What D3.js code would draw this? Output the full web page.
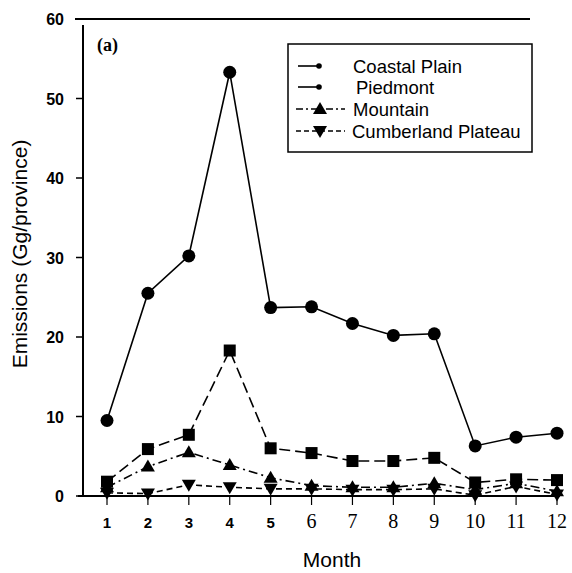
<!DOCTYPE html>
<html>
<head>
<meta charset="utf-8">
<script src="https://cdn.jsdelivr.net/npm/d3@7/dist/d3.min.js"></script>
<style>
  body { margin: 0; background: #fff; }
  svg text { fill: #000; }
</style>
</head>
<body>
<div id="chart"></div>
<script>
// monthly emissions per province
const months = [1, 2, 3, 4, 5, 6, 7, 8, 9, 10, 11, 12];
const coastalPlain = [1.8, 5.9, 7.7, 18.3, 6.0, 5.4, 4.4, 4.4, 4.8, 1.7, 2.1, 2.0];
const piedmont = [9.5, 25.5, 30.2, 53.3, 23.7, 23.8, 21.7, 20.2, 20.4, 6.3, 7.4, 7.9];
const mountain = [1.1, 3.7, 5.5, 3.9, 2.3, 1.3, 1.1, 1.1, 1.6, 0.8, 1.6, 0.6];
const cumberland = [0.4, 0.3, 1.4, 1.1, 0.9, 0.9, 0.8, 0.8, 0.9, 0.1, 1.2, 0.2];
const yTicks = [0, 10, 20, 30, 40, 50, 60];
const legendNames = ["Coastal Plain", "Piedmont", "Mountain", "Cumberland Plateau"];

const SANS = "'Liberation Sans', Arial, sans-serif";
const SERIF = "'Liberation Serif', 'Times New Roman', serif";

const series = [
  { name: "Coastal Plain", values: coastalPlain, dash: "11,5", marker: "square" },
  { name: "Piedmont", values: piedmont, dash: null, marker: "circle" },
  { name: "Mountain", values: mountain, dash: "9,4,2,4", marker: "triangle" },
  { name: "Cumberland Plateau", values: cumberland, dash: "6,4", marker: "triangleDown" },
];

const width = 572, height = 573;
const svg = d3.select("#chart").append("svg")
  .attr("width", width)
  .attr("height", height);

const x = d3.scaleLinear().domain([1, 12]).range([107, 557]);
const y = d3.scaleLinear().domain([0, 60]).range([496, 19]);

// frame: top line, y axis, x axis
svg.append("line")
  .attr("x1", 75).attr("x2", 530)
  .attr("y1", y(60)).attr("y2", y(60))
  .attr("stroke", "#000").attr("stroke-width", 2);
svg.append("line")
  .attr("x1", 83).attr("x2", 83)
  .attr("y1", y(60) + 6).attr("y2", y(0))
  .attr("stroke", "#000").attr("stroke-width", 2);
svg.append("line")
  .attr("x1", 78).attr("x2", 560)
  .attr("y1", y(0)).attr("y2", y(0))
  .attr("stroke", "#000").attr("stroke-width", 2);

// y ticks
svg.selectAll(".ytick").data(yTicks.slice(0, -1)).enter()
  .append("line")
  .attr("x1", 76).attr("x2", 83)
  .attr("y1", (d) => y(d)).attr("y2", (d) => y(d))
  .attr("stroke", "#000").attr("stroke-width", 1.5);

svg.selectAll(".ylabel").data(yTicks).enter()
  .append("text")
  .attr("x", 64)
  .attr("y", (d) => y(d) + 6)
  .attr("text-anchor", "end")
  .style("font-family", SANS)
  .style("font-weight", "bold")
  .style("font-size", "16px")
  .text((d) => d);

// x ticks
svg.selectAll(".xtick").data(months).enter()
  .append("line")
  .attr("x1", (d) => x(d)).attr("x2", (d) => x(d))
  .attr("y1", y(0)).attr("y2", y(0) + 9)
  .attr("stroke", "#000").attr("stroke-width", 1.2);

// months 1-5 are set in a bold sans, 6-12 in a serif face
svg.selectAll(".xlabel").data(months).enter()
  .append("text")
  .attr("x", (d) => x(d))
  .attr("y", 528)
  .attr("text-anchor", "middle")
  .style("font-family", (d) => (d <= 5 ? SANS : SERIF))
  .style("font-weight", (d) => (d <= 5 ? "bold" : "normal"))
  .style("font-size", (d) => (d <= 5 ? "15px" : "20px"))
  .text((d) => d);

// axis titles
svg.append("text")
  .attr("x", 332).attr("y", 567)
  .attr("text-anchor", "middle")
  .style("font-family", SANS)
  .style("font-size", "21px")
  .text("Month");

svg.append("text")
  .attr("transform", "translate(27,254) rotate(-90)")
  .attr("text-anchor", "middle")
  .style("font-family", SANS)
  .style("font-size", "21px")
  .text("Emissions (Gg/province)");

svg.append("text")
  .attr("x", 97).attr("y", 51)
  .style("font-family", SERIF)
  .style("font-weight", "bold")
  .style("font-size", "18px")
  .text("(a)");

// marker shapes
function drawMarker(g, type, cx, cy) {
  if (type === "circle") {
    g.append("circle").attr("cx", cx).attr("cy", cy).attr("r", 6.5).attr("fill", "#000");
  } else if (type === "square") {
    g.append("rect").attr("x", cx - 6).attr("y", cy - 6)
      .attr("width", 12).attr("height", 12).attr("fill", "#000");
  } else if (type === "triangle") {
    g.append("path")
      .attr("d", `M${cx},${cy - 7}L${cx + 7},${cy + 5}L${cx - 7},${cy + 5}Z`)
      .attr("fill", "#000");
  } else if (type === "triangleDown") {
    g.append("path")
      .attr("d", `M${cx - 7},${cy - 5}L${cx + 7},${cy - 5}L${cx},${cy + 7}Z`)
      .attr("fill", "#000");
  }
}

const line = d3.line()
  .x((d, i) => x(months[i]))
  .y((d) => y(d));

series.forEach((s) => {
  const g = svg.append("g");
  g.append("path")
    .datum(s.values)
    .attr("d", line)
    .attr("fill", "none")
    .attr("stroke", "#000")
    .attr("stroke-width", 1.6)
    .attr("stroke-dasharray", s.dash);
  s.values.forEach((v, i) => drawMarker(g, s.marker, x(months[i]), y(v)));
});

// legend
const legend = svg.append("g");
legend.append("rect")
  .attr("x", 288).attr("y", 44)
  .attr("width", 244).attr("height", 108)
  .attr("fill", "#fff")
  .attr("stroke", "#000").attr("stroke-width", 1.5);

const legendRows = [
  { name: legendNames[0], ty: 66, tx: 353, marker: "dot", dash: null },
  { name: legendNames[1], ty: 87, tx: 356, marker: "dot", dash: null },
  { name: legendNames[2], ty: 109, tx: 353, marker: "triangle", dash: "7,3,2,3" },
  { name: legendNames[3], ty: 131, tx: 352, marker: "triangleDown", dash: "5,3" },
];

legendRows.forEach((r) => {
  const g = legend.append("g");
  if (r.marker === "dot") {
    g.append("line").attr("x1", 298).attr("x2", 319)
      .attr("y1", r.ty).attr("y2", r.ty)
      .attr("stroke", "#000").attr("stroke-width", 1.6);
    g.append("circle").attr("cx", 319).attr("cy", r.ty).attr("r", 2.8).attr("fill", "#000");
  } else {
    g.append("line").attr("x1", 296).attr("x2", 345)
      .attr("y1", r.ty).attr("y2", r.ty)
      .attr("stroke", "#000").attr("stroke-width", 1.5)
      .attr("stroke-dasharray", r.dash);
    drawMarker(g, r.marker, 320, r.ty);
  }
  g.append("text")
    .attr("x", r.tx).attr("y", r.ty + 7)
    .style("font-family", SANS)
    .style("font-size", "18.5px")
    .text(r.name);
});
</script>
</body>
</html>
